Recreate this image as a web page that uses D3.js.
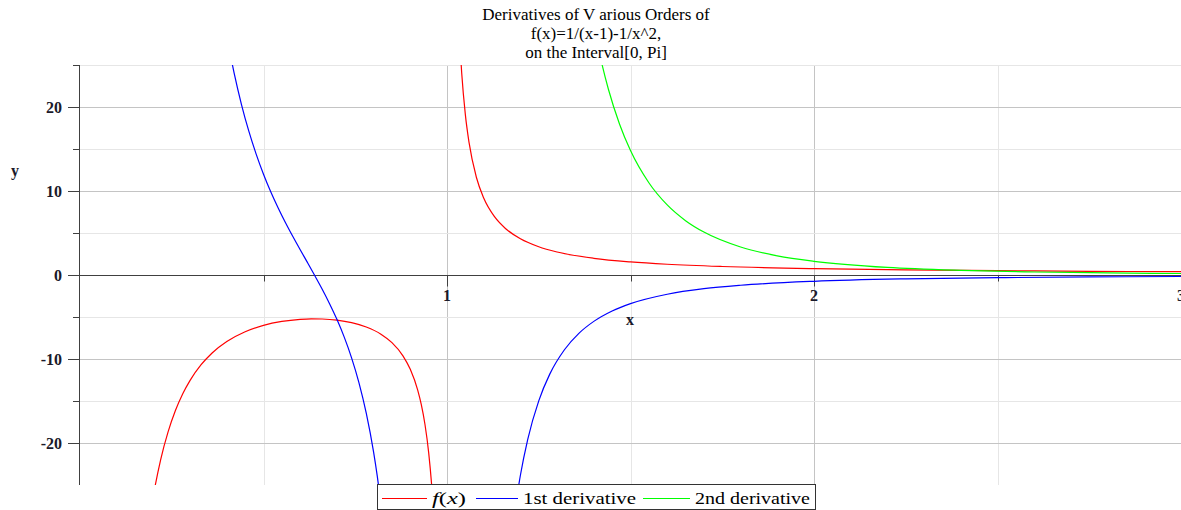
<!DOCTYPE html>
<html>
<head>
<meta charset="utf-8">
<script src="https://cdn.jsdelivr.net/npm/d3@7"></script>
<style>
    body { margin: 0; background: #fff; }
    svg { display: block; font-family: "Liberation Serif", "Times New Roman", serif; }
</style>
</head>
<body>
<div id="chart"></div>
<script>
// 标题
const titleLines = ["Derivatives of V arious Orders of", "f(x)=1/(x-1)-1/x^2,", "on the Interval[0, Pi]"];

// 图例
const seriesNames = ["f(x)", "1st derivative", "2nd derivative"];
const seriesColors = ["#ff0000", "#0000ff", "#00ff00"];

// 坐标轴刻度
const xTicks = [1, 2, 3];
const xMinorTicks = [0.5, 1.5, 2.5];
const yTicks = [-20, -10, 0, 10, 20];
const yMinorTicks = [-15, -5, 5, 15, 25];

// f(x) 在 x<1 和 x>1 两段
const fLeftX = [0.19, 0.20, 0.22, 0.24, 0.26, 0.28, 0.30, 0.33, 0.36, 0.40, 0.45, 0.50, 0.55, 0.60, 0.63, 0.66, 0.70, 0.74, 0.78, 0.82, 0.85, 0.88, 0.90, 0.92, 0.93, 0.94, 0.95, 0.96, 0.965];
const fLeftY = [-28.93, -26.25, -21.94, -18.68, -16.14, -14.14, -12.54, -10.68, -9.28, -7.92, -6.76, -6.00, -5.53, -5.28, -5.22, -5.24, -5.37, -5.67, -6.19, -7.04, -8.05, -9.62, -11.23, -13.68, -15.44, -17.80, -21.11, -26.09, -29.65];
const fRightX = [1.035, 1.04, 1.05, 1.06, 1.08, 1.10, 1.13, 1.16, 1.20, 1.25, 1.30, 1.40, 1.50, 1.60, 1.75, 2.00, 2.25, 2.50, 2.75, 3.00, 3.14];
const fRightY = [27.64, 24.08, 19.09, 15.78, 11.64, 9.17, 6.91, 5.51, 4.31, 3.36, 2.74, 1.99, 1.56, 1.28, 1.01, 0.75, 0.60, 0.51, 0.44, 0.39, 0.37];

// 一阶导数
const d1LeftX = [0.40, 0.41, 0.42, 0.44, 0.46, 0.48, 0.50, 0.52, 0.54, 0.56, 0.58, 0.60, 0.62, 0.64, 0.66, 0.68, 0.70, 0.72, 0.74, 0.76, 0.78, 0.80, 0.81, 0.82];
const d1LeftY = [28.47, 26.15, 24.02, 20.29, 17.12, 14.39, 12.00, 9.88, 7.98, 6.22, 4.58, 3.01, 1.47, -0.09, -1.69, -3.41, -5.28, -7.40, -9.86, -12.81, -16.45, -21.09, -23.94, -27.24];
const d1RightX = [1.19, 1.20, 1.22, 1.25, 1.28, 1.32, 1.36, 1.40, 1.45, 1.50, 1.60, 1.70, 1.80, 2.00, 2.25, 2.50, 2.75, 3.00, 3.14];
const d1RightY = [-26.51, -23.84, -19.56, -14.98, -11.80, -8.90, -6.92, -5.52, -4.28, -3.41, -2.29, -1.63, -1.22, -0.75, -0.46, -0.32, -0.23, -0.18, -0.15];

// 二阶导数 (x<1 部分全部低于 -25, 不可见)
const d2RightX = [1.41, 1.42, 1.44, 1.47, 1.50, 1.55, 1.60, 1.65, 1.70, 1.80, 1.90, 2.00, 2.20, 2.40, 2.60, 2.80, 3.00, 3.14];
const d2RightY = [27.50, 25.52, 22.08, 17.98, 14.81, 10.98, 8.34, 6.47, 5.11, 3.33, 2.28, 1.63, 0.90, 0.55, 0.36, 0.25, 0.18, 0.14];

const width = 1181, height = 510;
const plotTop = 65, plotBottom = 485, plotLeft = 80;

const x = d3.scaleLinear().domain([0, 3]).range([plotLeft, 1181]);
const y = d3.scaleLinear().domain([-25, 25]).range([plotBottom, plotTop]);

const svg = d3.select("#chart").append("svg")
    .attr("width", width)
    .attr("height", height)
    .attr("viewBox", "0 0 " + width + " " + height);

svg.append("defs").append("clipPath").attr("id", "plotClip")
    .append("rect")
    .attr("x", plotLeft).attr("y", plotTop)
    .attr("width", width - plotLeft + 60).attr("height", plotBottom - plotTop);

// 网格线
const grid = svg.append("g");
grid.selectAll(".vminor").data(xMinorTicks).enter().append("line")
    .attr("x1", d => Math.round(x(d)) + 0.5).attr("x2", d => Math.round(x(d)) + 0.5)
    .attr("y1", plotTop).attr("y2", plotBottom)
    .attr("stroke", "#e6e6e6");
grid.selectAll(".vmajor").data(xTicks).enter().append("line")
    .attr("x1", d => Math.round(x(d)) + 0.5).attr("x2", d => Math.round(x(d)) + 0.5)
    .attr("y1", plotTop).attr("y2", plotBottom)
    .attr("stroke", "#c4c4c4");
grid.selectAll(".hminor").data(yMinorTicks).enter().append("line")
    .attr("x1", plotLeft).attr("x2", width)
    .attr("y1", d => Math.round(y(d)) + 0.5).attr("y2", d => Math.round(y(d)) + 0.5)
    .attr("stroke", "#e6e6e6");
grid.selectAll(".hmajor").data(yTicks.filter(d => d !== 0)).enter().append("line")
    .attr("x1", plotLeft).attr("x2", width)
    .attr("y1", d => Math.round(y(d)) + 0.5).attr("y2", d => Math.round(y(d)) + 0.5)
    .attr("stroke", "#c4c4c4");

// 坐标轴
const axisColor = "#404040";
const y0 = Math.round(y(0)) + 0.5;
svg.append("line")
    .attr("x1", plotLeft).attr("x2", width)
    .attr("y1", y0).attr("y2", y0)
    .attr("stroke", axisColor);
svg.append("line")
    .attr("x1", plotLeft - 0.5).attr("x2", plotLeft - 0.5)
    .attr("y1", plotTop).attr("y2", plotBottom)
    .attr("stroke", axisColor);

// x 轴刻度
svg.selectAll(".xtick").data(xTicks).enter().append("line")
    .attr("x1", d => Math.round(x(d)) + 0.5).attr("x2", d => Math.round(x(d)) + 0.5)
    .attr("y1", y0).attr("y2", y0 + 11)
    .attr("stroke", axisColor);
svg.selectAll(".xminortick").data(xMinorTicks).enter().append("line")
    .attr("x1", d => Math.round(x(d)) + 0.5).attr("x2", d => Math.round(x(d)) + 0.5)
    .attr("y1", y0).attr("y2", y0 + 6)
    .attr("stroke", axisColor);
svg.selectAll(".xlabel").data(xTicks).enter().append("text")
    .attr("x", d => x(d)).attr("y", 301)
    .attr("text-anchor", "middle")
    .attr("font-size", 16).attr("font-weight", "bold").attr("fill", "#1a1a2a")
    .text(d => d);

// y 轴刻度
svg.selectAll(".ytick").data(yTicks).enter().append("line")
    .attr("x1", plotLeft - 12).attr("x2", plotLeft)
    .attr("y1", d => Math.round(y(d)) + 0.5).attr("y2", d => Math.round(y(d)) + 0.5)
    .attr("stroke", axisColor);
svg.selectAll(".yminortick").data(yMinorTicks).enter().append("line")
    .attr("x1", plotLeft - 7).attr("x2", plotLeft)
    .attr("y1", d => Math.round(y(d)) + 0.5).attr("y2", d => Math.round(y(d)) + 0.5)
    .attr("stroke", axisColor);
svg.selectAll(".ylabel").data(yTicks).enter().append("text")
    .attr("x", 62).attr("y", d => y(d) + 5.5)
    .attr("text-anchor", "end")
    .attr("font-size", 16).attr("font-weight", "bold").attr("fill", "#1a1a2a")
    .text(d => d < 0 ? "-" + Math.abs(d) : d);

// 轴标签
svg.append("text").attr("x", 630).attr("y", 325).attr("text-anchor", "middle")
    .attr("font-size", 16).attr("font-weight", "bold").attr("fill", "#1a1a2a").text("x");
svg.append("text").attr("x", 15).attr("y", 176).attr("text-anchor", "middle")
    .attr("font-size", 16).attr("font-weight", "bold").attr("fill", "#1a1a2a").text("y");

// 标题
svg.selectAll(".title").data(titleLines).enter().append("text")
    .attr("x", 596).attr("y", (d, i) => 20 + i * 19)
    .attr("text-anchor", "middle")
    .attr("font-size", 17).attr("fill", "#000")
    .text(d => d);

// 曲线
const line = d3.line()
    .x(d => x(d[0]))
    .y(d => y(d[1]))
    .curve(d3.curveMonotoneX);

const zip = (xs, ys) => xs.map((v, i) => [v, ys[i]]);
const curves = [
    { data: zip(fLeftX, fLeftY), color: seriesColors[0] },
    { data: zip(fRightX, fRightY), color: seriesColors[0] },
    { data: zip(d1LeftX, d1LeftY), color: seriesColors[1] },
    { data: zip(d1RightX, d1RightY), color: seriesColors[1] },
    { data: zip(d2RightX, d2RightY), color: seriesColors[2] }
];

svg.append("g").attr("clip-path", "url(#plotClip)")
    .selectAll("path").data(curves).enter().append("path")
    .attr("d", d => line(d.data))
    .attr("fill", "none")
    .attr("stroke", d => d.color)
    .attr("stroke-width", 1.2);

// 图例
const legend = svg.append("g");
legend.append("rect")
    .attr("x", 377.5).attr("y", 484.5)
    .attr("width", 438).attr("height", 25)
    .attr("fill", "#fff").attr("stroke", "#333");
const legendItems = [
    { x0: 382, x1: 427, tx: 432, tw: 34 },
    { x0: 476, x1: 518, tx: 523, tw: 113 },
    { x0: 643, x1: 690, tx: 695, tw: 115 }
];
legendItems.forEach((it, i) => {
    legend.append("line")
        .attr("x1", it.x0).attr("x2", it.x1)
        .attr("y1", 498.5).attr("y2", 498.5)
        .attr("stroke", seriesColors[i]).attr("stroke-width", 1.2);
    const t = legend.append("text")
        .attr("x", it.tx).attr("y", 504)
        .attr("font-size", 17).attr("fill", "#000")
        .attr("textLength", it.tw).attr("lengthAdjust", "spacingAndGlyphs");
    if (i === 0) {
        t.append("tspan").attr("font-style", "italic").text("f");
        t.append("tspan").text("(");
        t.append("tspan").attr("font-style", "italic").text("x");
        t.append("tspan").text(")");
    } else {
        t.text(seriesNames[i]);
    }
});
</script>
</body>
</html>
